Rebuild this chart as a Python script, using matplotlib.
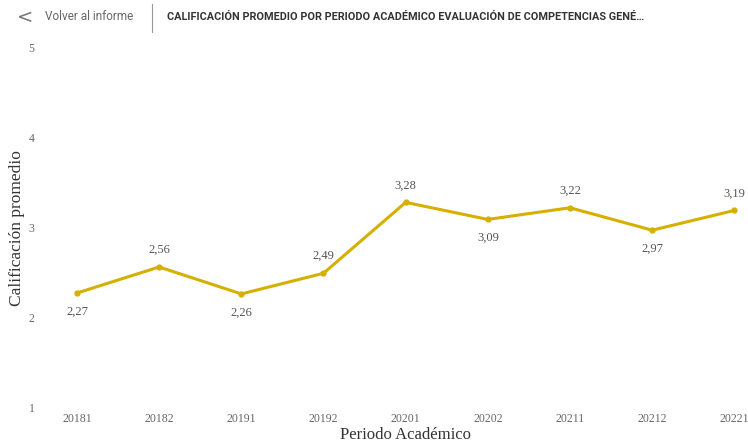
import matplotlib
matplotlib.use("Agg")
import matplotlib.pyplot as plt

periodos = ["20181", "20182", "20191", "20192", "20201", "20202", "20211", "20212", "20221"]
calificacion = [2.27, 2.56, 2.26, 2.49, 3.28, 3.09, 3.22, 2.97, 3.19]
arriba = [False, True, False, True, True, False, True, False, True]

titulo = "CALIFICACIÓN PROMEDIO POR PERIODO ACADÉMICO EVALUACIÓN DE COMPETENCIAS GENÉ…"
color_linea = "#D6B000"
serif = "Liberation Serif"

fig = plt.figure(figsize=(7.48, 4.42), dpi=100)
ax = fig.add_axes([40/748, 35/442, 705/748, 359/442])

x = list(range(len(periodos)))
ax.plot(x, calificacion, color=color_linea, lw=2.2, marker="o", ms=3.5)

for xi, v, up in zip(x, calificacion, arriba):
    txt = ("%.2f" % v).replace(".", ",")
    ax.annotate(txt, (xi, v), xytext=(0, 8 if up else -9), textcoords="offset points",
                ha="center", va="bottom" if up else "top",
                fontsize=9, family=serif, color="#555555")

ax.set_xlim(-0.45, 8.13)
ax.set_ylim(1, 5)
ax.set_yticks([1, 2, 3, 4, 5])
ax.set_xticks(x)
ax.set_xticklabels(periodos)
for s in ax.spines.values():
    s.set_visible(False)
ax.tick_params(length=0, labelsize=8.5, labelcolor="#666666")
ax.tick_params(axis="x", pad=4)
ax.tick_params(axis="y", pad=4)
for lab in ax.get_xticklabels() + ax.get_yticklabels():
    lab.set_family(serif)

fig.text(17/748, 1 - 228/442, "Calificación promedio", rotation=90, ha="center", va="center",
         fontsize=12.5, family=serif, color="#333333")
fig.text(405/748, 1 - 435/442, "Periodo Académico", ha="center", va="center",
         fontsize=12, family=serif, color="#333333")

# cabecera
fig.text(25/748, 1 - 17/442, "<", ha="center", va="center", fontsize=14, color="#777777")
fig.text(45/748, 1 - 17/442, "Volver al informe", ha="left", va="center", fontsize=8.5,
         family="Roboto", color="#666666")
fig.add_artist(plt.Line2D([152/748, 152/748], [1 - 4/442, 1 - 32/442], color="#999999", lw=0.8))
fig.text(167/748, 1 - 17/442, titulo, ha="left", va="center", fontsize=7.8,
         family="Roboto", weight="bold", color="#333333")

fig.savefig("out.png", dpi=100)
